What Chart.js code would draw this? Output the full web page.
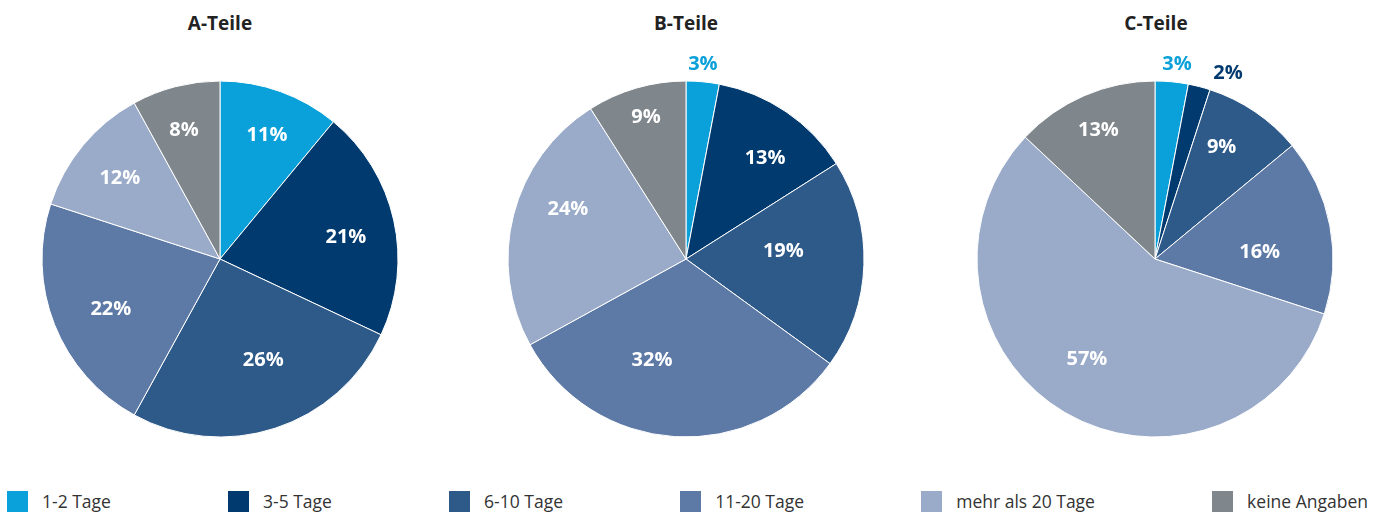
<!DOCTYPE html>
<html>
<head>
<meta charset="utf-8">
<script src="https://cdn.jsdelivr.net/npm/chart.js@4"></script>
<style>
  body { margin: 0; width: 1386px; height: 516px; background: #fff; position: relative; overflow: hidden;
         font-family: "Open Sans", "Noto Sans", sans-serif; }
  .pie { position: absolute; top: 39px; width: 440px; height: 440px; }
  .title { position: absolute; top: 10px; width: 300px; text-align: center; font-weight: bold; font-size: 19px; color: #222; }
  #legend { position: absolute; left: 7px; right: 18px; top: 489px; display: flex; justify-content: space-between; }
  .item { display: flex; align-items: center; font-size: 17.5px; color: #333; }
  .box { width: 21px; height: 21px; margin-right: 14px; }
</style>
</head>
<body>
<div class="title" style="left:70px">A-Teile</div>
<div class="title" style="left:536px">B-Teile</div>
<div class="title" style="left:1006px">C-Teile</div>
<canvas id="pieA" class="pie" width="440" height="440" style="left:0px"></canvas>
<canvas id="pieB" class="pie" width="440" height="440" style="left:466px"></canvas>
<canvas id="pieC" class="pie" width="440" height="440" style="left:935px"></canvas>
<div id="legend"></div>

<script>
// Lieferzeiten je Teileklasse, Anteile in Prozent
const categories = ['1-2 Tage', '3-5 Tage', '6-10 Tage', '11-20 Tage', 'mehr als 20 Tage', 'keine Angaben']
const aTeile = [11, 21, 26, 22, 12, 8]
const bTeile = [3, 13, 19, 32, 24, 9]
const cTeile = [3, 2, 9, 16, 57, 13]

const colors = ['#0aa0d9', '#003a6e', '#2e5a8a', '#5d79a6', '#9aabc9', '#7f868c']

// label placement: [radius as share of pie radius, angle nudge in degrees, outside?]
const labelPosA = [[0.755, 0.7], [0.72, 1.8], [0.61, -5.5], [0.67, -2.2], [0.73, 0], [0.76, -1]]
const labelPosB = [[1.11, -0.5, true], [0.73, 3.3], [0.55, -7.7], [0.59, 15.3], [0.725, 9.4], [0.84, 0.7]]
const labelPosC = [[1.11, 1, true], [1.13, 6.9, true], [0.74, -3.8], [0.59, 5.9], [0.67, 4.2], [0.80, 0]]

const percentLabels = {
    id: 'percentLabels',
    afterDatasetsDraw(chart, args, opts) {
        let ctx = chart.ctx
        let meta = chart.getDatasetMeta(0)
        let values = chart.data.datasets[0].data
        ctx.save()
        ctx.font = 'bold 20px "Open Sans", "Noto Sans", sans-serif'
        ctx.textAlign = 'center'
        ctx.textBaseline = 'middle'
        meta.data.forEach((arc, i) => {
            let pos = opts.positions[i]
            let mid = (arc.startAngle + arc.endAngle) / 2 + pos[1] * Math.PI / 180
            let r = arc.outerRadius * pos[0]
            let x = arc.x + Math.cos(mid) * r
            let y = arc.y + Math.sin(mid) * r + 2
            ctx.fillStyle = pos[2] ? colors[i] : '#fff'
            ctx.fillText(values[i] + '%', x, y)
        })
        ctx.restore()
    }
}

function drawPie(id, values, positions) {
    return new Chart(document.getElementById(id), {
        type: 'pie',
        data: {
            labels: categories,
            datasets: [{
                data: values,
                backgroundColor: colors,
                borderColor: '#fff',
                borderWidth: 1
            }]
        },
        options: {
            responsive: false,
            animation: false,
            radius: 178,
            layout: { padding: 0 },
            plugins: {
                legend: { display: false },
                tooltip: { enabled: false },
                percentLabels: { positions: positions }
            }
        },
        plugins: [percentLabels]
    })
}

drawPie('pieA', aTeile, labelPosA)
drawPie('pieB', bTeile, labelPosB)
drawPie('pieC', cTeile, labelPosC)

let legend = document.getElementById('legend')
categories.forEach((name, i) => {
    let item = document.createElement('div')
    item.className = 'item'
    let box = document.createElement('span')
    box.className = 'box'
    box.style.background = colors[i]
    item.appendChild(box)
    item.appendChild(document.createTextNode(name))
    legend.appendChild(item)
})
</script>
</body>
</html>
